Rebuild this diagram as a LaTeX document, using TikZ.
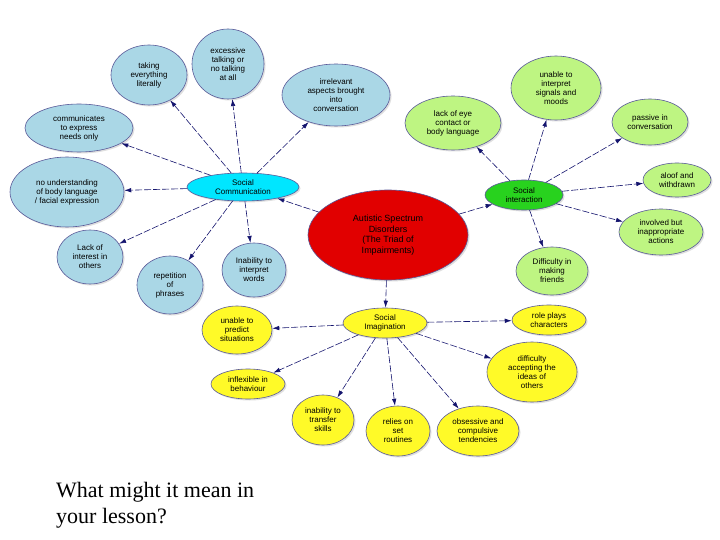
\documentclass[tikz,border=0pt]{standalone}
\usepackage{fontspec}
\setmainfont{Liberation Sans}
\newfontfamily\serifx{Liberation Serif}
\usetikzlibrary{shapes.geometric,arrows.meta,shadows}
\definecolor{lblue}{RGB}{170,215,230}
\definecolor{cyanx}{RGB}{0,230,255}
\definecolor{lgreen}{RGB}{190,245,130}
\definecolor{gx}{RGB}{40,210,30}
\definecolor{yx}{RGB}{255,250,40}
\definecolor{redx}{RGB}{225,0,0}
\definecolor{navy}{RGB}{20,20,110}
\begin{document}
\begin{tikzpicture}[x=1pt,y=-1pt,
  bub/.style={ellipse,draw=navy!70,line width=0.6pt,inner sep=0pt,align=center,
    font=\fontsize{8}{9}\selectfont,text=black,drop shadow={opacity=0.25,shadow xshift=1.5pt,shadow yshift=-1.5pt}},
  bl/.style={bub,fill=lblue},
  gr/.style={bub,fill=lgreen},
  ye/.style={bub,fill=yx},
  sz/.style 2 args={minimum width=#1,minimum height=#2},
  arr/.style={draw=navy,line width=0.6pt,dash pattern=on 7pt off 2pt,-{Latex[length=7pt,width=4.5pt]}}]
\useasboundingbox (0,0) rectangle (720,540);
\fill[white] (0,0) rectangle (720,540);
\node[bub,fill=redx,sz={160}{90},font=\fontsize{9}{10.5}\selectfont] (c) at (388,235) {Autistic Spectrum\\Disorders\\(The Triad of\\Impairments)};
\node[bub,fill=cyanx,sz={112}{28}] (sc) at (243,187) {Social\\Communication};
\node[bub,fill=gx,sz={78}{30}] (si) at (524,195) {Social\\interaction};
\node[bub,fill=yx,sz={84}{30}] (im) at (385,323) {Social\\Imagination};
% blue
\node[bl,sz={76}{60}] (b1) at (149,75) {taking\\everything\\literally};
\node[bl,sz={72}{70}] (b2) at (228,64) {excessive\\talking or\\no talking\\at all};
\node[bl,sz={108}{62}] (b3) at (336,95) {irrelevant\\aspects brought\\into\\conversation};
\node[bl,sz={108}{48}] (b4) at (79,128) {communicates\\to express\\needs only};
\node[bl,sz={114}{70}] (b5) at (67,192) {no understanding\\of body language\\/ facial expression};
\node[bl,sz={66}{54}] (b6) at (90,257) {Lack of\\interest in\\others};
\node[bl,sz={66}{58}] (b7) at (170,285) {repetition\\of\\phrases};
\node[bl,sz={64}{54}] (b8) at (254,270) {Inability to\\interpret\\words};
% green
\node[gr,sz={96}{54}] (g1) at (453,123) {lack of eye\\contact or\\body language};
\node[gr,sz={90}{64}] (g2) at (556,88) {unable to\\interpret\\signals and\\moods};
\node[gr,sz={76}{46}] (g3) at (650,122) {passive in\\conversation};
\node[gr,sz={68}{34}] (g4) at (677,180) {aloof and\\withdrawn};
\node[gr,sz={84}{46}] (g5) at (661,232) {involved but\\inappropriate\\actions};
\node[gr,sz={72}{48}] (g6) at (552,271) {Difficulty in\\making\\friends};
% yellow
\node[ye,sz={70}{48}] (y1) at (237,330) {unable to\\predict\\situations};
\node[ye,sz={74}{30}] (y2) at (248,384) {inflexible in\\behaviour};
\node[ye,sz={62}{50}] (y3) at (323,420) {inability to\\transfer\\skills};
\node[ye,sz={64}{50}] (y4) at (398,431) {relies on\\set\\routines};
\node[ye,sz={82}{50}] (y5) at (478,431) {obsessive and\\compulsive\\tendencies};
\node[ye,sz={90}{60}] (y6) at (532,372) {difficulty\\accepting the\\ideas of\\others};
\node[ye,sz={74}{30}] (y7) at (549,320) {role plays\\characters};
% arrows
\foreach \a/\b in {c/sc,c/si,c/im,
  sc/b1,sc/b2,sc/b3,sc/b4,sc/b5,sc/b6,sc/b7,sc/b8,
  si/g1,si/g2,si/g3,si/g4,si/g5,si/g6,
  im/y1,im/y2,im/y3,im/y4,im/y5,im/y6,im/y7}
  \draw[arr] (\a) -- (\b);
\node[font=\serifx\fontsize{22}{26}\selectfont,align=left,anchor=north west,inner sep=0pt] (q) at (56,482) {What might it mean in\\your lesson?};
\end{tikzpicture}
\end{document}
